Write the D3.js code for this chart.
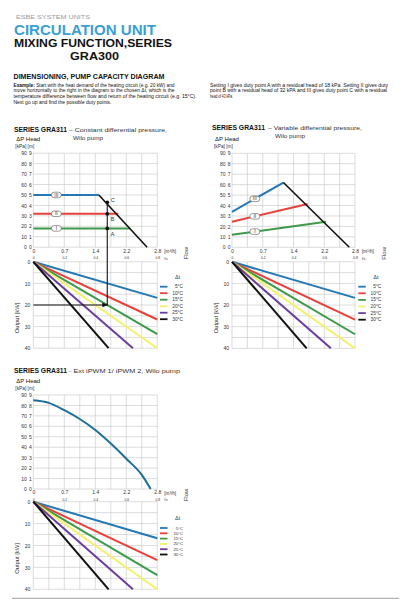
<!DOCTYPE html>
<html><head><meta charset="utf-8">
<script src="https://cdn.jsdelivr.net/npm/d3@7"></script>
<style>body{margin:0;background:#fff}svg{display:block}text{font-family:"Liberation Sans",Arial,sans-serif}</style>
</head><body><svg id="c" width="411" height="600"></svg>
<script>
// ---------- data ----------
const flowTicks=[0,0.7,1.4,2.1,2.8];
const flowLabels=["0","0.7","1.4","2.2","2.8"];
const lsLabels=["0","0.2","0.4","0.6","0.8"];
const headTicks=[0,10,20,30,40,50,60,70,80,90];
const meterLabels=["0","1","2","3","4","5","6","7","8","9"];
const outputTicks=[0,10,20,30,40];
const dtLabels=["5°C","10°C","15°C","20°C","25°C","30°C"];
const dtColors=["#2378b5","#e8403a","#3d9a4a","#f3f06a","#6a3d9e","#111111"];
const outputEndFlow=[2.8,2.8,2.8,2.8,2.25,1.7];
const outputEndKW=[16.7,26.7,33.5,40,40,40];
const settingLabels=["I","II","III"];
const settingColors=["#3d9a4a","#e8403a","#2378b5"];
// constant differential pressure
const constHead=[18,32,50];
const constEndFlow=[2.19,1.92,1.48];
const constMaxFlow=[1.48,2.57];
const constMaxHead=[50,0];
const dutyFlow=1.67;
const dutyHead=[18,32,43];
const dutyLabels=["A","B","C"];
const demandKW=20;
const labelFlow=0.52;
// variable differential pressure
const varStartHead=[12,24.5,34];
const varEndFlow=[2.14,1.72,1.17];
const varEndHead=[24.5,41.5,62];
const varMaxFlow=[1.17,2.67];
const varMaxHead=[62,0];
// ext iPWM
const extFlow=[0,0.35,0.7,1.05,1.4,1.75,2.1,2.45,2.65];
const extHead=[85,82.5,75.5,67,56.5,43.5,29,13.5,0];

const svg=d3.select("#c");
svg.append("rect").attr("width",411).attr("height",600).attr("fill","#fff");
const defs=svg.append("defs");
defs.append("marker").attr("id","arr").attr("viewBox","0 0 10 10").attr("refX",9).attr("refY",5)
 .attr("markerWidth",5).attr("markerHeight",5).attr("orient","auto")
 .append("path").attr("d","M0,1 L10,5 L0,9 z").attr("fill","#111");

function txt(s,x,y,size,opt={}){
  const t=svg.append("text").attr("x",x).attr("y",y).attr("font-size",size).text(s)
   .attr("fill",opt.fill||"#111");
  if(opt.bold) t.attr("font-weight","bold");
  if(opt.len) t.attr("textLength",opt.len).attr("lengthAdjust","spacingAndGlyphs");
  if(opt.anchor) t.attr("text-anchor",opt.anchor);
  return t;
}

// ---------- header ----------
txt("ESBE SYSTEM UNITS",16,18.5,5.2,{fill:"#9a9a9a",len:74});
txt("CIRCULATION UNIT",14,35.2,14.5,{fill:"#3a9fd5",bold:true,len:142});
txt("MIXING FUNCTION,SERIES",14,47.4,10,{bold:true,len:158});
txt("GRA300",70,60,10,{bold:true,len:49});
txt("DIMENSIONING, PUMP CAPACITY DIAGRAM",13.5,79.3,6.5,{bold:true,len:151});
const ex=txt("",13.5,86.6,4.5,{len:161});
ex.append("tspan").attr("font-weight","bold").text("Example: ");
ex.append("tspan").text("Start with the heat demand of the heating circuit (e.g. 20 kW) and");
txt("move horizontally to the right in the diagram to the chosen Δt, which is the",13.5,92.4,4.5,{len:161});
txt("temperature difference between flow and return of the heating circuit (e.g. 15°C).",13.5,98.3,4.5,{len:183});
txt("Next go up and find the possible duty points.",13.5,104.2,4.5,{len:98});
txt("Setting I gives duty point A with a residual head of 18 kPa. Setting II gives duty",210,86.6,4.5,{len:178});
txt("point B with a residual head of 32 kPA and III gives duty point C with a residual",210,92.4,4.5,{len:177});
txt("head of 43 kPa.",210,98.3,4.5,{len:23});

// ---------- panel helpers ----------
const gridFlows=d3.range(0,9).map(i=>i*0.35);
function grid(g,x,y,yvals){
  g.append("g").selectAll("line").data(gridFlows).join("line")
   .attr("x1",d=>x(d)).attr("x2",d=>x(d)).attr("y1",y.range()[0]).attr("y2",y.range()[1])
   .attr("stroke","#c4c4c4").attr("stroke-width",0.6);
  g.append("g").selectAll("line").data(yvals).join("line")
   .attr("x1",x(0)).attr("x2",x(2.8)).attr("y1",d=>y(d)).attr("y2",d=>y(d))
   .attr("stroke","#c4c4c4").attr("stroke-width",0.6);
}
function styleAxis(a,size){
  a.select(".domain").remove();
  a.selectAll("text").attr("font-size",size).attr("fill","#333").attr("font-family","Liberation Sans,Arial,sans-serif");
}
function panel(cfg){
  const g=svg.append("g");
  const x=d3.scaleLinear([0,2.8],[cfg.x0,cfg.x1]);
  const yH=d3.scaleLinear([0,90],[cfg.hb,cfg.ht]);
  const yO=d3.scaleLinear([0,40],[cfg.ot,cfg.ob]);
  grid(g,x,yH,headTicks);
  grid(g,x,yO,d3.range(0,9).map(i=>i*5));
  // head axes
  styleAxis(g.append("g").attr("transform",`translate(${cfg.x0-6.5},0)`)
    .call(d3.axisLeft(yH).tickValues(headTicks).tickSize(0).tickPadding(0)),5);
  styleAxis(g.append("g").attr("transform",`translate(${cfg.x0-1.5},0)`)
    .call(d3.axisLeft(yH).tickValues(headTicks).tickSize(0).tickPadding(0).tickFormat((d,i)=>meterLabels[i])),5);
  // flow axis
  styleAxis(g.append("g").attr("transform",`translate(0,${cfg.hb})`)
    .call(d3.axisBottom(x).tickValues(flowTicks).tickSize(0).tickPadding(1.8).tickFormat((d,i)=>flowLabels[i])),5);
  styleAxis(g.append("g").attr("transform",`translate(0,${cfg.hb})`)
    .call(d3.axisBottom(x).tickValues(flowTicks).tickSize(0).tickPadding(9.3).tickFormat((d,i)=>lsLabels[i])),3.4);
  g.append("text").attr("x",cfg.x1+7).attr("y",cfg.hb+5.8).attr("font-size",4.6).attr("fill","#333").text("[m³/h]");
  g.append("text").attr("x",cfg.x1+7).attr("y",cfg.hb+12.4).attr("font-size",3.4).attr("fill","#333").text("l/s");
  g.append("text").attr("transform",`translate(${cfg.x1+31},${cfg.hb+6}) rotate(-90)`).attr("text-anchor","middle")
   .attr("font-size",6).attr("fill","#333").text("Flow");
  // output axis
  styleAxis(g.append("g").attr("transform",`translate(${cfg.x0-3},0)`)
    .call(d3.axisLeft(yO).tickValues(outputTicks).tickSize(0).tickPadding(0)),5);
  g.append("text").attr("transform",`translate(${cfg.x0-14.5},${(cfg.ot+cfg.ob)/2+13}) rotate(-90)`)
   .attr("text-anchor","middle").attr("font-size",5.8).attr("fill","#333").text("Output [kW]");
  // head title
  g.append("text").attr("x",cfg.x0-17).attr("y",cfg.ht-12).attr("font-size",6).attr("fill","#111").text("ΔP Head");
  g.append("text").attr("x",cfg.x0-18).attr("y",cfg.ht-5).attr("font-size",4.8).attr("fill","#333").text("[kPa] [m]");
  // output lines
  const line=d3.line().x(d=>x(d[0])).y(d=>yO(d[1]));
  g.append("g").selectAll("path").data(dtLabels).join("path")
   .attr("d",(d,i)=>line([[0,0],[outputEndFlow[i],outputEndKW[i]]]))
   .attr("stroke",(d,i)=>dtColors[i]).attr("stroke-width",2).attr("fill","none");
  // legend
  const lg=g.append("g");
  lg.append("text").attr("x",cfg.lx+15).attr("y",cfg.ly-8).attr("font-size",5.5).attr("fill","#333").text("Δt");
  dtLabels.forEach((d,i)=>{
    const yy=cfg.ly+i*cfg.ls;
    lg.append("line").attr("x1",cfg.lx).attr("x2",cfg.lx+7.5).attr("y1",yy).attr("y2",yy)
      .attr("stroke",dtColors[i]).attr("stroke-width",1.8);
    lg.append("text").attr("x",cfg.lx+23).attr("y",yy+1.5).attr("text-anchor","end")
      .attr("font-size",cfg.lf).attr("fill","#333").text(d);
  });
  return {g,x,yH,yO};
}
function settingBox(g,cx,cy,label){
  g.append("rect").attr("x",cx-5).attr("y",cy-2.8).attr("width",10).attr("height",5.6).attr("rx",2.8)
   .attr("fill","#fff").attr("stroke","#555").attr("stroke-width",0.6);
  g.append("text").attr("x",cx).attr("y",cy+1.7).attr("text-anchor","middle").attr("font-size",4.8)
   .attr("fill","#333").text(label);
}

// ---------- chart 1: constant differential pressure ----------
txt("SERIES GRA311",14,131.6,6.8,{bold:true,len:53});
txt("– Constant differential pressure,",69,131.6,6.2,{len:98,fill:"#333"});
txt("Wilo pump",73,139.6,6.2,{len:30,fill:"#333"});
const p1=panel({x0:33.3,x1:157.3,hb:247.2,ht:153.2,ot:261.8,ob:348.2,lx:160,ly:286.7,ls:6.5,lf:4.8});
{
  const {g,x,yH,yO}=p1;
  const hl=d3.line().x(d=>x(d[0])).y(d=>yH(d[1]));
  settingLabels.forEach((s,i)=>{
    g.append("path").attr("d",hl([[0,constHead[i]],[constEndFlow[i],constHead[i]]]))
     .attr("stroke",settingColors[i]).attr("stroke-width",2).attr("fill","none");
  });
  g.append("path").attr("d",hl(constMaxFlow.map((f,i)=>[f,constMaxHead[i]])))
   .attr("stroke","#111").attr("stroke-width",1.6).attr("fill","none");
  settingLabels.forEach((s,i)=>settingBox(g,x(labelFlow),yH(constHead[i]),s));
  // demand arrow and duty line
  g.append("line").attr("x1",x(0)).attr("x2",x(dutyFlow)).attr("y1",yO(demandKW)).attr("y2",yO(demandKW))
   .attr("stroke","#111").attr("stroke-width",1.1).attr("marker-end","url(#arr)");
  g.append("line").attr("x1",x(dutyFlow)).attr("x2",x(dutyFlow)).attr("y1",yO(demandKW)).attr("y2",yH(d3.max(dutyHead)))
   .attr("stroke","#111").attr("stroke-width",1.1);
  dutyHead.forEach((h,i)=>{
    g.append("circle").attr("cx",x(dutyFlow)).attr("cy",yH(h)).attr("r",1.9).attr("fill","#111");
    g.append("text").attr("x",x(dutyFlow)+3.5).attr("y",yH(h)+(i==2?-0.5:7.5)).attr("font-size",5.5)
     .attr("fill","#333").text(dutyLabels[i]);
  });
}

// ---------- chart 2: variable differential pressure ----------
txt("SERIES GRA311",212,129.6,6.8,{bold:true,len:53});
txt("– Variable differential pressure,",268,129.6,6.2,{len:94,fill:"#333"});
txt("Wilo pump",275,138,6.2,{len:30,fill:"#333"});
const p2=panel({x0:232,x1:355,hb:247.3,ht:153.3,ot:261.8,ob:348.3,lx:358.3,ly:286.7,ls:6.6,lf:4.8});
{
  const {g,x,yH}=p2;
  const hl=d3.line().x(d=>x(d[0])).y(d=>yH(d[1]));
  settingLabels.forEach((s,i)=>{
    g.append("path").attr("d",hl([[0,varStartHead[i]],[varEndFlow[i],varEndHead[i]]]))
     .attr("stroke",settingColors[i]).attr("stroke-width",2).attr("fill","none");
  });
  g.append("path").attr("d",hl(varMaxFlow.map((f,i)=>[f,varMaxHead[i]])))
   .attr("stroke","#111").attr("stroke-width",1.6).attr("fill","none");
  settingLabels.forEach((s,i)=>{
    const h=varStartHead[i]+(varEndHead[i]-varStartHead[i])*labelFlow/varEndFlow[i];
    settingBox(g,x(labelFlow),yH(h),s);
  });
}

// ---------- chart 3: ext iPWM ----------
txt("SERIES GRA311",14,373.2,6.8,{bold:true,len:53});
txt("- Ext iPWM 1/ iPWM 2, Wilo pump",69,373.2,6.2,{len:111,fill:"#333"});
const p3=panel({x0:33.3,x1:157.3,hb:489,ht:395,ot:501.7,ob:589.3,lx:160,ly:528,ls:5.3,lf:4.3});
{
  const {g,x,yH}=p3;
  const cl=d3.line().x(d=>x(d[0])).y(d=>yH(d[1])).curve(d3.curveMonotoneX);
  g.append("path").attr("d",cl(extFlow.map((f,i)=>[f,extHead[i]])))
   .attr("stroke","#1d6e99").attr("stroke-width",2).attr("fill","none");
}
svg.append("line").attr("x1",12).attr("x2",399).attr("y1",598.3).attr("y2",598.3).attr("stroke","#888").attr("stroke-width",0.8);
</script></body></html>
